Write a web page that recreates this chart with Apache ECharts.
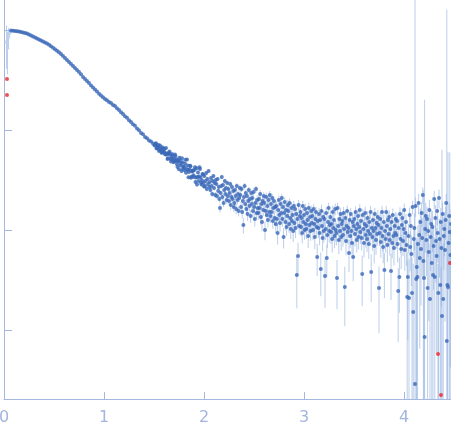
<!DOCTYPE html>
<html>
<head>
<meta charset="utf-8">
<script src="https://cdn.jsdelivr.net/npm/echarts@6/dist/echarts.min.js"></script>
<style>
  html, body { margin: 0; padding: 0; background: #fff; }
  #chart { width: 451px; height: 437px; }
</style>
</head>
<body>
<div id="chart"></div>
<script>
// scattering vector q and log10 of intensity, sigma is the absolute error on I
var q = [
  0.07,0.09,0.11,0.13,0.15,0.17,0.19,0.21,0.23,0.25,
  0.27,0.29,0.31,0.33,0.35,0.37,0.39,0.41,0.43,0.45,
  0.47,0.49,0.51,0.53,0.55,0.57,0.59,0.61,0.63,0.65,
  0.67,0.69,0.71,0.73,0.75,0.77,0.79,0.81,0.83,0.85,
  0.87,0.89,0.91,0.93,0.95,0.97,0.99,1.01,1.03,1.05,
  1.07,1.09,1.11,1.13,1.15,1.17,1.19,1.21,1.23,1.25,
  1.27,1.29,1.31,1.33,1.35,1.37,1.39,1.41,1.43,1.45,
  1.47,1.49,
  1.505,1.51,1.515,1.52,1.525,1.53,1.535,1.54,1.545,1.55,
  1.555,1.56,1.565,1.57,1.575,1.58,1.585,1.59,1.595,1.60,
  1.605,1.61,1.615,1.62,1.625,1.63,1.635,1.64,1.645,1.65,
  1.655,1.66,1.665,1.67,1.675,1.68,1.685,1.69,1.695,1.70,
  1.705,1.71,1.715,1.72,1.725,1.73,1.735,1.74,1.745,1.75,
  1.755,1.76,1.765,1.77,1.775,1.78,1.785,1.79,1.795,1.80,
  1.805,1.81,1.815,1.82,1.825,1.83,1.835,1.84,1.845,1.85,
  1.855,1.86,1.865,1.87,1.875,1.88,1.885,1.89,1.895,1.90,
  1.905,1.91,1.915,1.92,1.925,1.93,1.935,1.94,1.945,1.95,
  1.955,1.96,1.965,1.97,1.975,1.98,1.985,1.99,1.995,2.00,
  2.004,2.010,2.016,2.022,2.028,2.034,2.040,2.046,2.052,2.058,
  2.064,2.070,2.076,2.082,2.088,2.094,2.100,2.106,2.112,2.118,
  2.124,2.130,2.136,2.142,2.148,2.154,2.160,2.166,2.172,2.178,
  2.184,2.190,2.196,2.202,2.208,2.214,2.220,2.226,2.232,2.238,
  2.244,2.250,2.256,2.262,2.268,2.274,2.280,2.286,2.292,2.298,
  2.304,2.310,2.316,2.322,2.328,2.334,2.340,2.346,2.352,2.358,
  2.364,2.370,2.376,2.382,2.388,2.394,2.400,2.406,2.412,2.418,
  2.424,2.430,2.436,2.442,2.448,2.454,2.460,2.466,2.472,2.478,
  2.484,2.490,2.496,2.502,2.508,2.514,2.520,2.526,2.532,2.538,
  2.544,2.550,2.556,2.562,2.568,2.574,2.580,2.586,2.592,2.598,
  2.604,2.610,2.616,2.622,2.628,2.634,2.640,2.646,2.652,2.658,
  2.664,2.670,2.676,2.682,2.688,2.694,2.700,2.706,2.712,2.718,
  2.724,2.730,2.736,2.742,2.748,2.754,2.760,2.766,2.772,2.778,
  2.784,2.790,2.796,2.802,2.808,2.814,2.820,2.826,2.832,2.838,
  2.844,2.850,2.856,2.862,2.868,2.874,2.880,2.886,2.892,2.898,
  2.904,2.910,2.916,2.922,2.928,2.934,2.940,2.946,2.952,2.958,
  2.964,2.970,2.976,2.982,2.988,2.994,3.000,3.006,3.012,3.018,
  3.024,3.030,3.036,3.042,3.048,3.054,3.060,3.066,3.072,3.078,
  3.084,3.090,3.096,3.102,3.108,3.114,3.120,3.126,3.132,3.138,
  3.144,3.150,3.156,3.162,3.168,3.174,3.180,3.186,3.192,3.198,
  3.204,3.210,3.216,3.222,3.228,3.234,3.240,3.246,3.252,3.258,
  3.264,3.270,3.276,3.282,3.288,3.294,3.300,3.306,3.312,3.318,
  3.324,3.330,3.336,3.342,3.348,3.354,3.360,3.366,3.372,3.378,
  3.384,3.390,3.396,3.402,3.408,3.414,3.420,3.426,3.432,3.438,
  3.444,3.450,3.456,3.462,3.468,3.474,3.480,3.486,3.492,3.498,
  3.504,3.510,3.516,3.522,3.528,3.534,3.540,3.546,3.552,3.558,
  3.564,3.570,3.576,3.582,3.588,3.594,3.600,3.606,3.612,3.618,
  3.624,3.630,3.636,3.642,3.648,3.654,3.660,3.666,3.672,3.678,
  3.684,3.690,3.696,3.702,3.708,3.714,3.720,3.726,3.732,3.738,
  3.744,3.750,3.756,3.762,3.768,3.774,3.780,3.786,3.792,3.798,
  3.804,3.810,3.816,3.822,3.828,3.834,3.840,3.846,3.852,3.858,
  3.864,3.870,3.876,3.882,3.888,3.894,3.900,3.906,3.912,3.918,
  3.924,3.930,3.936,3.942,3.948,3.954,3.960,3.966,3.972,3.978,
  3.984,3.990,3.996,4.002,4.008,4.014,4.020,4.026,4.032,4.038,
  4.044,4.050,4.056,4.062,4.068,4.074,4.080,4.086,4.092,4.098,
  4.104,4.110,4.116,4.122,4.128,4.134,4.140,4.146,4.152,4.158,
  4.164,4.170,4.176,4.182,4.188,4.194,4.200,4.206,4.212,4.218,
  4.224,4.230,4.236,4.242,4.248,4.254,4.260,4.266,4.272,4.278,
  4.284,4.290,4.296,4.302,4.308,4.314,4.320,4.326,4.332,4.338,
  4.344,4.350,4.356,4.362,4.368,4.374,4.380,4.386,4.392,4.398,
  4.404,4.410,4.416,4.422,4.428,4.434,4.440,4.446,4.452,4.458,
  4.464,4.470
];

var logI = [
  -0.005,-0.007,-0.010,-0.012,-0.016,-0.019,-0.024,-0.029,-0.036,-0.045,
  -0.055,-0.065,-0.074,-0.085,-0.094,-0.105,-0.114,-0.126,-0.134,-0.148,
  -0.162,-0.178,-0.192,-0.208,-0.222,-0.241,-0.259,-0.280,-0.301,-0.319,
  -0.341,-0.359,-0.381,-0.399,-0.421,-0.442,-0.469,-0.490,-0.511,-0.529,
  -0.554,-0.575,-0.596,-0.614,-0.638,-0.656,-0.673,-0.689,-0.702,-0.719,
  -0.731,-0.749,-0.761,-0.782,-0.799,-0.822,-0.839,-0.862,-0.878,-0.902,
  -0.919,-0.943,-0.958,-0.986,-1.002,-1.029,-1.043,-1.069,-1.082,-1.106,
  -1.115,-1.136,
  -1.154,-1.150,-1.138,-1.133,-1.185,-1.180,-1.168,-1.163,-1.151,-1.211,
  -1.198,-1.154,-1.181,-1.201,-1.228,-1.224,-1.172,-1.191,-1.219,-1.214,
  -1.188,-1.241,-1.245,-1.179,-1.232,-1.246,-1.289,-1.283,-1.236,-1.230,
  -1.214,-1.247,-1.291,-1.314,-1.278,-1.241,-1.255,-1.299,-1.322,-1.286,
  -1.313,-1.245,-1.260,-1.312,-1.292,-1.343,-1.371,-1.302,-1.318,-1.393,
  -1.277,-1.305,-1.356,-1.336,-1.411,-1.283,-1.322,-1.386,-1.366,-1.369,
  -1.403,-1.336,-1.298,-1.427,-1.389,-1.295,-1.354,-1.400,-1.473,-1.421,
  -1.396,-1.358,-1.362,-1.477,-1.467,-1.414,-1.404,-1.407,-1.453,-1.471,
  -1.400,-1.372,-1.519,-1.475,-1.382,-1.546,-1.470,-1.425,-1.509,-1.464,
  -1.372,-1.391,-1.475,-1.527,-1.546,-1.502,-1.441,-1.445,-1.528,-1.564,
  -1.46,-1.56,-1.51,-1.43,-1.59,-1.49,-1.54,-1.41,-1.57,-1.52,
  -1.60,-1.48,-1.56,-1.64,-1.51,-1.46,-1.58,-1.53,-1.65,-1.50,
  -1.54,-1.66,-1.49,-1.61,-1.57,-1.69,-1.78,-1.63,-1.56,-1.47,
  -1.67,-1.55,-1.73,-1.60,-1.51,-1.64,-1.58,-1.70,-1.53,-1.66,
  -1.59,-1.71,-1.63,-1.54,-1.75,-1.67,-1.57,-1.69,-1.61,-1.77,
  -1.73,-1.60,-1.66,-1.79,-1.56,-1.70,-1.64,-1.81,-1.68,-1.58,
  -1.65,-1.77,-1.59,-1.82,-1.71,-1.95,-1.67,-1.56,-1.74,-1.63,
  -1.79,-1.66,-1.84,-1.71,-1.60,-1.76,-1.69,-1.86,-1.63,-1.74,
  -1.68,-1.81,-1.62,-1.77,-1.89,-1.73,-1.59,-1.83,-1.70,-1.78,
  -1.83,-1.69,-1.78,-1.64,-1.87,-1.74,-1.92,-1.71,-1.80,-1.66,
  -1.73,-2.00,-1.81,-1.67,-1.85,-1.76,-1.90,-1.70,-1.82,-1.65,
  -1.86,-1.74,-1.82,-1.68,-1.91,-1.78,-1.71,-1.88,-1.77,-1.94,
  -1.76,-1.89,-2.03,-1.80,-1.70,-1.85,-1.93,-1.74,-1.83,-1.68,
  -1.89,-1.77,-2.07,-1.83,-1.72,-1.92,-1.80,-1.97,-1.86,-1.75,
  -1.81,-1.94,-1.73,-1.88,-1.99,-1.78,-1.91,-1.85,-2.01,-1.76,
  -1.93,-1.79,-1.98,-1.84,-2.45,-1.89,-2.26,-1.75,-1.96,-1.86,
  -1.82,-1.97,-1.88,-2.03,-1.76,-1.92,-1.85,-2.00,-1.79,-1.94,
  -1.99,-1.83,-1.90,-2.06,-1.78,-1.95,-1.87,-2.01,-1.81,-1.93,
  -1.86,-2.00,-1.79,-1.94,-2.07,-1.89,-1.82,-1.97,-2.27,-1.91,
  -1.98,-1.84,-2.03,-1.90,-2.39,-1.81,-1.96,-2.08,-1.87,-2.01,
  -1.89,-2.46,-1.99,-1.83,-2.28,-2.05,-1.92,-1.78,-2.01,-1.95,
  -1.87,-2.02,-1.94,-2.09,-1.82,-1.98,-1.90,-2.06,-1.79,-2.00,
  -2.03,-2.48,-1.78,-1.96,-2.10,-1.89,-2.01,-1.84,-2.07,-1.94,
  -1.91,-2.05,-1.83,-1.99,-2.57,-1.88,-2.11,-1.96,-1.81,-2.02,
  -1.98,-2.23,-1.90,-2.06,-1.84,-2.01,-2.13,-1.92,-2.27,-1.96,
  -1.89,-2.04,-1.82,-1.99,-2.10,-1.94,-1.86,-2.07,-1.97,-1.80,
  -2.02,-1.91,-2.08,-2.44,-1.85,-1.99,-2.13,-1.94,-1.83,-2.05,
  -1.96,-2.09,-1.88,-2.01,-2.14,-1.92,-2.04,-1.82,-2.42,-1.98,
  -2.07,-1.90,-2.01,-2.16,-1.84,-1.98,-2.10,-1.93,-2.04,-1.87,
  -1.95,-2.58,-2.03,-1.89,-2.12,-1.98,-1.82,-2.06,-2.17,-1.92,
  -2.40,-2.01,-2.09,-1.82,-1.96,-2.15,-1.90,-2.04,-1.87,-2.10,
  -1.99,-2.41,-1.92,-2.13,-1.85,-2.06,-2.18,-1.96,-2.03,-1.89,
  -2.05,-1.91,-2.14,-2.61,-1.98,-2.47,-1.84,-2.09,-2.19,-1.95,
  -1.88,-2.11,-1.99,-1.80,-2.20,-2.03,-1.92,-2.15,-2.67,-2.47,
  -2.06,-2.68,-1.85,-2.17,-1.96,-2.24,-2.63,-1.77,-2.82,-2.09,
  -1.98,-3.54,-1.76,-2.49,-2.37,-2.47,-2.14,-1.73,-2.05,-2.28,
  -1.92,-2.19,-1.83,-2.08,-1.65,-2.31,-2.48,-3.07,-1.99,-1.86,
  -2.10,-1.89,-2.58,-2.01,-2.22,-1.80,-2.69,-2.07,-1.94,-2.33,
  -1.97,-2.45,-2.16,-1.69,-2.47,-1.88,-2.11,-2.26,-1.81,-2.03,
  -2.63,-1.68,-2.09,-2.55,-1.92,-2.18,-2.86,-1.84,-2.69,-2.06,
  -1.99,-2.20,-1.90,-1.73,-3.11,-2.55,-2.57,-2.13,-1.86,-2.02,
  -2.25,-1.94
];

var sigma = [
  0.004,0.0035,0.0042,0.0038,0.004,0.0036,0.0041,0.0037,0.0039,0.0035,
  0.0038,0.0034,0.0036,0.0033,0.0035,0.0032,0.0034,0.0031,0.0033,0.003,
  0.0031,0.0029,0.0028,0.0027,0.0028,0.0026,0.0027,0.0025,0.0026,0.0024,
  0.0025,0.0023,0.0024,0.0022,0.0023,0.0021,0.0022,0.002,0.0021,0.0019,
  0.002,0.0019,0.0018,0.0019,0.0017,0.0018,0.0017,0.0016,0.0017,0.0016,
  0.0015,0.0016,0.0015,0.0014,0.0015,0.0014,0.0015,0.0014,0.0013,0.0014,
  0.0014,0.0013,0.0014,0.0013,0.0013,0.0014,0.0013,0.0013,0.0012,0.0013,
  0.0013,0.0012,
  0.0012,0.0012,0.0011,0.0013,0.0012,0.0012,0.0011,0.0013,0.0012,0.0012,
  0.0012,0.0013,0.0012,0.0011,0.0013,0.0012,0.0012,0.0013,0.0011,0.0012,
  0.0013,0.0012,0.0012,0.0013,0.0012,0.0011,0.0013,0.0012,0.0013,0.0012,
  0.0012,0.0013,0.0012,0.0013,0.0012,0.0014,0.0013,0.0012,0.0013,0.0013,
  0.0013,0.0012,0.0014,0.0013,0.0013,0.0012,0.0014,0.0013,0.0013,0.0014,
  0.0013,0.0014,0.0013,0.0012,0.0014,0.0013,0.0014,0.0013,0.0013,0.0014,
  0.0014,0.0013,0.0014,0.0013,0.0014,0.0014,0.0013,0.0015,0.0014,0.0013,
  0.0014,0.0015,0.0014,0.0013,0.0015,0.0014,0.0014,0.0015,0.0013,0.0014,
  0.0015,0.0014,0.0015,0.0014,0.0013,0.0015,0.0014,0.0015,0.0014,0.0015,
  0.0015,0.0014,0.0016,0.0015,0.0014,0.0015,0.0016,0.0014,0.0015,0.0015,
  0.0015,0.0014,0.0016,0.0015,0.0014,0.0016,0.0015,0.0015,0.0014,0.0016,
  0.0014,0.0015,0.0016,0.0014,0.0015,0.0016,0.0015,0.0014,0.0016,0.0015,
  0.0015,0.0016,0.0014,0.0015,0.0016,0.0015,0.0016,0.0014,0.0015,0.0016,
  0.0016,0.0015,0.0017,0.0016,0.0015,0.0017,0.0016,0.0016,0.0015,0.0017,
  0.0018,0.0019,0.0020,0.0018,0.0019,0.0020,0.0019,0.0018,0.0020,0.0019,
  0.0019,0.0020,0.0018,0.0019,0.0020,0.0019,0.0020,0.0018,0.0019,0.0020,
  0.0020,0.0019,0.0018,0.0020,0.0019,0.0020,0.0018,0.0019,0.0020,0.0019,
  0.0020,0.0019,0.0021,0.0020,0.0019,0.0021,0.0020,0.0020,0.0019,0.0021,
  0.0020,0.0021,0.0022,0.0020,0.0021,0.0022,0.0021,0.0020,0.0022,0.0021,
  0.0021,0.0022,0.0020,0.0021,0.0022,0.0021,0.0022,0.0020,0.0021,0.0022,
  0.0022,0.0021,0.0020,0.0022,0.0021,0.0022,0.0020,0.0021,0.0022,0.0021,
  0.0021,0.0020,0.0022,0.0021,0.0020,0.0022,0.0021,0.0021,0.0020,0.0022,
  0.0020,0.0021,0.0022,0.0020,0.0021,0.0022,0.0021,0.0020,0.0022,0.0021,
  0.0021,0.0022,0.0020,0.0021,0.0022,0.0021,0.0022,0.0020,0.0021,0.0022,
  0.0022,0.0021,0.0020,0.0022,0.0021,0.0022,0.0020,0.0021,0.0022,0.0021,
  0.0021,0.0020,0.0022,0.0021,0.0019,0.0022,0.0020,0.0021,0.0020,0.0022,
  0.0020,0.0021,0.0022,0.0020,0.0021,0.0022,0.0021,0.0020,0.0022,0.0021,
  0.0021,0.0022,0.0020,0.0021,0.0022,0.0021,0.0022,0.0020,0.0021,0.0022,
  0.0022,0.0021,0.0020,0.0022,0.0021,0.0022,0.0020,0.0021,0.0019,0.0021,
  0.0022,0.0021,0.0023,0.0022,0.0019,0.0024,0.0022,0.0022,0.0021,0.0023,
  0.0021,0.0018,0.0023,0.0021,0.0019,0.0023,0.0022,0.0021,0.0023,0.0022,
  0.0022,0.0023,0.0021,0.0022,0.0023,0.0022,0.0023,0.0021,0.0022,0.0023,
  0.0023,0.0017,0.0021,0.0023,0.0022,0.0023,0.0021,0.0022,0.0023,0.0022,
  0.0022,0.0021,0.0023,0.0022,0.0016,0.0024,0.0022,0.0022,0.0021,0.0023,
  0.0021,0.0021,0.0026,0.0021,0.0022,0.0023,0.0022,0.0021,0.0023,0.0022,
  0.0022,0.0023,0.0021,0.0022,0.0020,0.0022,0.0023,0.0021,0.0022,0.0023,
  0.0023,0.0022,0.0021,0.0019,0.0022,0.0023,0.0021,0.0022,0.0023,0.0022,
  0.0022,0.0021,0.0023,0.0022,0.0021,0.0024,0.0022,0.0022,0.0019,0.0025,
  0.0023,0.0022,0.0024,0.0023,0.0022,0.0024,0.0023,0.0023,0.0022,0.0024,
  0.0022,0.0017,0.0024,0.0022,0.0023,0.0024,0.0023,0.0026,0.0021,0.0023,
  0.0019,0.0024,0.0022,0.0023,0.0024,0.0023,0.0024,0.0022,0.0023,0.0024,
  0.0021,0.0019,0.0023,0.0022,0.0023,0.0024,0.0022,0.0023,0.0024,0.0023,
  0.0024,0.0023,0.0025,0.0017,0.0023,0.0019,0.0024,0.0023,0.0024,0.0025,
  0.0025,0.0023,0.0027,0.0025,0.0024,0.0026,0.0025,0.0027,0.0028,0.0026,
  0.0028,0.003,0.0026,0.0029,0.0027,0.003,0.003,0.0026,0.0031,0.0028,
  0.0042,2.5,0.0038,0.0045,0.0041,0.0044,0.004,0.0043,0.0039,0.0046,
  0.0044,0.0047,0.004,0.0049,0.0042,0.02,0.0046,0.2,0.0043,0.0048,
  0.0045,0.0041,0.005,0.0044,0.0048,0.0042,0.0052,0.0046,0.0043,0.0049,
  0.0047,0.005,0.0044,0.0042,0.0051,0.0045,0.0048,0.0049,0.0043,0.0046,
  0.0052,0.0045,0.0048,0.005,0.0046,0.0049,0.062,0.0044,0.0053,0.0047,
  0.0048,0.0051,0.0046,0.0044,1.6,0.005,0.058,0.0049,0.0047,0.05,
  0.0052,0.0048
];

// lowest-q points, drawn pale
var paleQ = [0.025, 0.035, 0.045, 0.055];
var paleLogI = [-0.12, -0.18, -0.07, -0.03];
var paleSigma = [0.35, 0.3, 0.2, 0.06];

// points flagged as outliers (red)
var redQ = [0.03, 0.03, 4.34, 4.37, 4.46];
var redLogI = [-0.49, -0.65, -3.24, -3.65, -2.33];
var redSigma = [0, 0, 0.004, 0.004, 0.0045];

var xTicks = [0, 1, 2, 3, 4];
var yTicks = [-3, -2, -1, 0];

var X_MIN = 0, X_MAX = 4.47;
var Y_MIN = -3.69, Y_MAX = 0.30;

var axisColor = '#a6b8e2';
var barColor = 'rgba(150,180,225,0.65)';

function points(qs, ls) {
  return qs.map(function (x, i) { return [x, ls[i]]; });
}

// error bar ends in log space, cut at the plot edges
function errorBars(qs, ls, ss) {
  var out = [];
  qs.forEach(function (x, i) {
    if (!ss[i]) return;
    var I = Math.pow(10, ls[i]);
    var hi = Math.min(Math.log10(I + ss[i]), Y_MAX);
    var lo = I - ss[i] > 0 ? Math.max(Math.log10(I - ss[i]), Y_MIN) : Y_MIN;
    out.push([x, lo, hi]);
  });
  return out;
}

var barData = errorBars(paleQ, paleLogI, paleSigma)
  .concat(errorBars(q, logI, sigma))
  .concat(errorBars(redQ, redLogI, redSigma));

var myChart = echarts.init(document.getElementById('chart'));

var option = {
  animation: false,
  backgroundColor: '#fff',
  grid: {
    left: 4,
    right: 0,
    top: 0,
    bottom: 38,
    outerBoundsMode: 'none'
  },
  xAxis: {
    type: 'value',
    min: X_MIN,
    max: X_MAX,
    axisLine: { show: true, onZero: false, lineStyle: { color: axisColor, width: 1 } },
    axisTick: {
      show: true,
      inside: true,
      length: 7,
      customValues: xTicks,
      lineStyle: { color: axisColor }
    },
    axisLabel: {
      customValues: xTicks,
      color: '#a3b5df',
      fontSize: 16,
      fontFamily: 'DejaVu Sans',
      margin: 11
    },
    splitLine: { show: false }
  },
  yAxis: {
    type: 'value',
    min: Y_MIN,
    max: Y_MAX,
    axisLine: { show: true, onZero: false, lineStyle: { color: axisColor, width: 1 } },
    axisTick: {
      show: true,
      inside: true,
      length: 8,
      customValues: yTicks,
      lineStyle: { color: axisColor }
    },
    axisLabel: { show: false },
    splitLine: { show: false }
  },
  series: [
    {
      // error bars
      type: 'custom',
      data: barData,
      silent: true,
      clip: true,
      z: 1,
      renderItem: function (params, api) {
        var x = api.value(0);
        var p1 = api.coord([x, api.value(1)]);
        var p2 = api.coord([x, api.value(2)]);
        return {
          type: 'line',
          shape: { x1: p1[0], y1: p1[1], x2: p2[0], y2: p2[1] },
          style: { stroke: barColor, lineWidth: 1 }
        };
      }
    },
    {
      type: 'scatter',
      data: points(paleQ, paleLogI),
      symbolSize: 4,
      itemStyle: { color: '#c2d2ec' },
      z: 2
    },
    {
      type: 'scatter',
      data: points(q, logI),
      symbolSize: 4,
      itemStyle: { color: '#3a68b8' },
      z: 3
    },
    {
      type: 'scatter',
      data: points(redQ, redLogI),
      symbolSize: 4,
      itemStyle: { color: '#e8262b' },
      z: 4
    }
  ]
};

myChart.setOption(option);
window.addEventListener('resize', function () {
  myChart.resize();
});
</script>
</body>
</html>
